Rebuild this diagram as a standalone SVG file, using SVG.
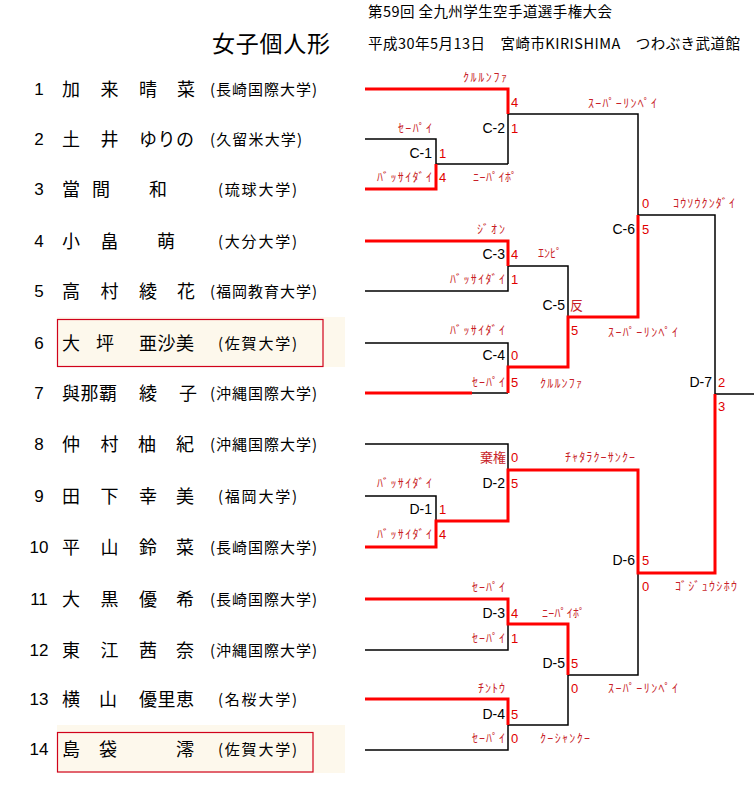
<svg xmlns="http://www.w3.org/2000/svg" width="754" height="785" viewBox="0 0 754 785">
<style>
text{font-family:"Noto Sans CJK JP","Noto Sans",sans-serif}
.hd{font-size:14.5px;fill:#000}
.tt{font-size:23px;fill:#000}
.no{font-family:"Liberation Sans",Arial,sans-serif;font-size:17px;text-anchor:middle;fill:#000}
.nm{font-size:18px;fill:#000}
.un{font-size:15px;fill:#000}
.kt{font-size:12px;fill:#c81e28}
.sc{font-family:"Liberation Sans",Arial,sans-serif;font-size:13px;fill:#e00000}
.mt{font-family:"Liberation Sans",Arial,sans-serif;font-size:14px;text-anchor:end;fill:#000}
.bk{stroke:#000;stroke-width:1.5;fill:none}
.rd{stroke:#ff0000;stroke-width:3;fill:none}
.hl{fill:#fdf8ec}
.bx{fill:none;stroke:#d0021b;stroke-width:1.2}
</style>
<rect width="754" height="785" fill="#fff"/>
<g id="header">
<text class="hd" x="368" y="17" textLength="244">第59回 全九州学生空手道選手権大会</text>
<text class="tt" x="212" y="52" textLength="118">女子個人形</text>
<text class="hd" x="368" y="49" textLength="372">平成30年5月13日　宮崎市KIRISHIMA　つわぶき武道館</text>
</g>
<g id="highlights">
<rect class="hl" x="57" y="317" width="288" height="50"/>
<rect class="bx" x="57.5" y="319.5" width="265.5" height="47"/>
<rect class="hl" x="57" y="725" width="288" height="48"/>
<rect class="bx" x="57.5" y="732.5" width="255.5" height="39.5"/>
</g>
<g id="players">
<g id="p1"><text class="no" x="39" y="95">1</text><text class="nm" x="62 100.5 139 177" y="95.5">加来晴菜</text><text class="un" x="210" y="94.5" textLength="107">(長崎国際大学)</text></g>
<g id="p2"><text class="no" x="39" y="145">2</text><text class="nm" x="62 100.5 139 157.5 176" y="145.5">土井ゆりの</text><text class="un" x="210" y="144.5" textLength="92">(久留米大学)</text></g>
<g id="p3"><text class="no" x="39" y="195">3</text><text class="nm" x="62 92 149" y="195.5">當間和</text><text class="un" x="218" y="194.5" textLength="79">(琉球大学)</text></g>
<g id="p4"><text class="no" x="39" y="247">4</text><text class="nm" x="62 100.5 157" y="247.5">小畠萌</text><text class="un" x="218" y="246.5" textLength="79">(大分大学)</text></g>
<g id="p5"><text class="no" x="39" y="297">5</text><text class="nm" x="62 100.5 139 177" y="297.5">高村綾花</text><text class="un" x="210" y="296.5" textLength="107">(福岡教育大学)</text></g>
<g id="p6"><text class="no" x="39" y="349">6</text><text class="nm" x="62 96 139 157.5 176" y="349.5">大坪亜沙美</text><text class="un" x="218" y="348.5" textLength="79">(佐賀大学)</text></g>
<g id="p7"><text class="no" x="39" y="399">7</text><text class="nm" x="62 80.5 99 139 179" y="399.5">與那覇綾子</text><text class="un" x="210" y="398.5" textLength="107">(沖縄国際大学)</text></g>
<g id="p8"><text class="no" x="39" y="450">8</text><text class="nm" x="62 100.5 138 176" y="450.5">仲村柚紀</text><text class="un" x="210" y="449.5" textLength="107">(沖縄国際大学)</text></g>
<g id="p9"><text class="no" x="39" y="502">9</text><text class="nm" x="62 100.5 139 176" y="502.5">田下幸美</text><text class="un" x="218" y="501.5" textLength="79">(福岡大学)</text></g>
<g id="p10"><text class="no" x="39" y="553">10</text><text class="nm" x="62 100.5 139 176" y="553.5">平山鈴菜</text><text class="un" x="210" y="552.5" textLength="107">(長崎国際大学)</text></g>
<g id="p11"><text class="no" x="39" y="605">11</text><text class="nm" x="62 100.5 139 176" y="605.5">大黒優希</text><text class="un" x="210" y="604.5" textLength="107">(長崎国際大学)</text></g>
<g id="p12"><text class="no" x="39" y="656">12</text><text class="nm" x="62 100.5 139 176" y="656.5">東江茜奈</text><text class="un" x="210" y="655.5" textLength="107">(沖縄国際大学)</text></g>
<g id="p13"><text class="no" x="39" y="705">13</text><text class="nm" x="62 99 139 157.5 176" y="705.5">横山優里恵</text><text class="un" x="218" y="704.5" textLength="79">(名桜大学)</text></g>
<g id="p14"><text class="no" x="39" y="755">14</text><text class="nm" x="62 99 176" y="755.5">島袋澪</text><text class="un" x="218" y="754.5" textLength="79">(佐賀大学)</text></g>
</g>
<g id="connectors">
<path class="bk" d="M365,139H436V164H508M508,114V164M508,114H638V215H715V394H754M365,291H508V266H568V317M365,343H508V367M472,393H508M365,444H508V470M365,496H436V521M365,650H508V624M568,675H638V573M365,750H508V725H568V675"/>
<path class="rd" d="M365,89H508V114M365,189H436V164M365,241H508V266M365,393H472M508,393V367H568V317H638V215M365,547H436V521H508V470H638V573H715V394M365,599H508V624H568V675M365,699H508V725"/>
</g>
<g id="matches">
<g id="C-1"><text class="mt" x="432" y="158">C-1</text><text class="sc" x="439" y="157.7">1</text><text class="sc" x="439" y="181.7">4</text></g>
<g id="C-2"><text class="mt" x="505" y="133">C-2</text><text class="sc" x="511" y="106.7">4</text><text class="sc" x="511" y="132.7">1</text></g>
<g id="C-3"><text class="mt" x="505" y="259">C-3</text><text class="sc" x="511" y="258.7">4</text><text class="sc" x="511" y="283.7">1</text></g>
<g id="C-4"><text class="mt" x="505" y="360">C-4</text><text class="sc" x="511" y="359.7">0</text><text class="sc" x="511" y="386.7">5</text></g>
<g id="C-5"><text class="mt" x="565" y="310">C-5</text><text class="kt" x="570" y="310" style="font-size:13px">反</text><text class="sc" x="571" y="334.7">5</text></g>
<g id="C-6"><text class="mt" x="635" y="234">C-6</text><text class="sc" x="642" y="207.7">0</text><text class="sc" x="642" y="233.7">5</text></g>
<g id="D-1"><text class="mt" x="432" y="514">D-1</text><text class="sc" x="439" y="513.7">1</text><text class="sc" x="439" y="538.7">4</text></g>
<g id="D-2"><text class="mt" x="505" y="488">D-2</text><text class="sc" x="511" y="461.7">0</text><text class="sc" x="511" y="487.7">5</text></g>
<g id="D-3"><text class="mt" x="505" y="618">D-3</text><text class="sc" x="511" y="617.7">4</text><text class="sc" x="511" y="642.7">1</text></g>
<g id="D-4"><text class="mt" x="505" y="719">D-4</text><text class="sc" x="511" y="718.7">5</text><text class="sc" x="511" y="742.7">0</text></g>
<g id="D-5"><text class="mt" x="565" y="668">D-5</text><text class="sc" x="571" y="667.7">5</text><text class="sc" x="571" y="692.7">0</text></g>
<g id="D-6"><text class="mt" x="635" y="565">D-6</text><text class="sc" x="642" y="564.7">5</text><text class="sc" x="642" y="590.7">0</text></g>
<g id="D-7"><text class="mt" x="712" y="387">D-7</text><text class="sc" x="718" y="386.7">2</text><text class="sc" x="718" y="410.7">3</text></g>
</g>
<g id="kata">
<text class="kt" x="463" y="81.6" textLength="44">ｸﾙﾙﾝﾌｧ</text>
<text class="kt" x="588" y="107.6" textLength="69">ｽｰﾊﾟｰﾘﾝﾍﾟｲ</text>
<text class="kt" x="398" y="132.6" textLength="34">ｾｰﾊﾟｲ</text>
<text class="kt" x="377" y="181.6" textLength="55">ﾊﾞｯｻｲﾀﾞｲ</text>
<text class="kt" x="473" y="181.6" textLength="44">ﾆｰﾊﾟｲﾎﾟ</text>
<text class="kt" x="673" y="207.6" textLength="62">ｺｳｿｳｸﾝﾀﾞｲ</text>
<text class="kt" x="477" y="233.6" textLength="28">ｼﾞｵﾝ</text>
<text class="kt" x="538" y="257.6" textLength="24">ｴﾝﾋﾟ</text>
<text class="kt" x="450" y="283.6" textLength="55">ﾊﾞｯｻｲﾀﾞｲ</text>
<text class="kt" x="608" y="336.6" textLength="70">ｽｰﾊﾟｰﾘﾝﾍﾟｲ</text>
<text class="kt" x="450" y="334.6" textLength="55">ﾊﾞｯｻｲﾀﾞｲ</text>
<text class="kt" x="472" y="386.6" textLength="33">ｾｰﾊﾟｲ</text>
<text class="kt" x="540" y="387.6" textLength="42">ｸﾙﾙﾝﾌｧ</text>
<text class="kt" x="480" y="462" style="font-size:13px">棄権</text>
<text class="kt" x="565" y="461.6" textLength="70">ﾁｬﾀﾗｸｰｻﾝｸｰ</text>
<text class="kt" x="377" y="487.6" textLength="55">ﾊﾞｯｻｲﾀﾞｲ</text>
<text class="kt" x="377" y="538.6" textLength="55">ﾊﾞｯｻｲﾀﾞｲ</text>
<text class="kt" x="675" y="590.6" textLength="62">ｺﾞｼﾞｭｳｼﾎｳ</text>
<text class="kt" x="472" y="591.6" textLength="33">ｾｰﾊﾟｲ</text>
<text class="kt" x="542" y="617.6" textLength="43">ﾆｰﾊﾟｲﾎﾟ</text>
<text class="kt" x="472" y="642.6" textLength="33">ｾｰﾊﾟｲ</text>
<text class="kt" x="608" y="692.6" textLength="70">ｽｰﾊﾟｰﾘﾝﾍﾟｲ</text>
<text class="kt" x="478" y="692.6" textLength="27">ﾁﾝﾄｳ</text>
<text class="kt" x="472" y="742.6" textLength="33">ｾｰﾊﾟｲ</text>
<text class="kt" x="540" y="742.6" textLength="50">ｸｰｼｬﾝｸｰ</text>
</g>
</svg>
